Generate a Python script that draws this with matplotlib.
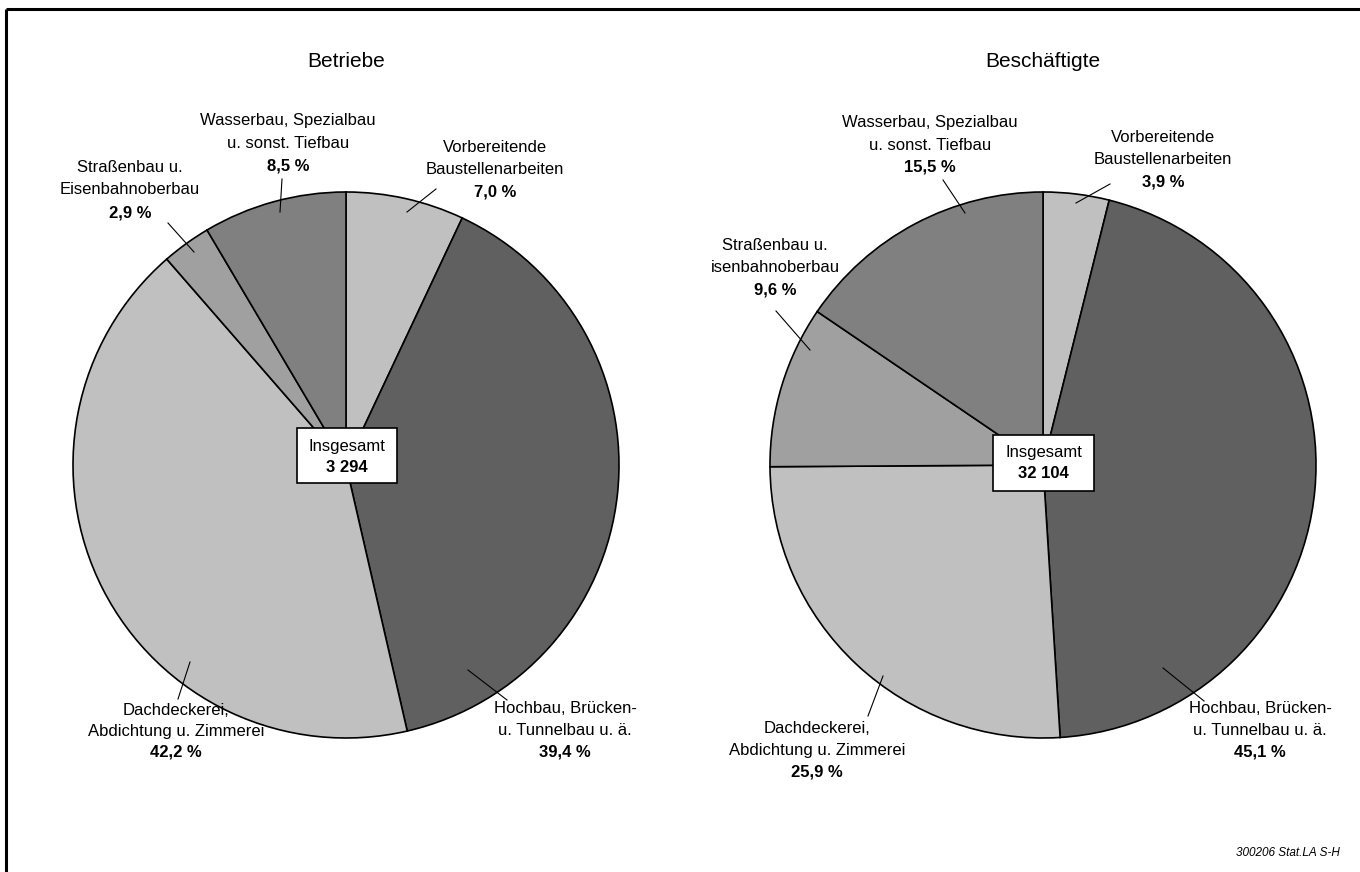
import matplotlib
matplotlib.use("Agg")
import matplotlib.pyplot as plt
from matplotlib.patches import Rectangle

plt.rcParams['font.family'] = ['Liberation Sans', 'DejaVu Sans']

# ---- data ----
categories = [
    ["Vorbereitende", "Baustellenarbeiten"],
    ["Hochbau, Brücken-", "u. Tunnelbau u. ä."],
    ["Dachdeckerei,", "Abdichtung u. Zimmerei"],
    ["Straßenbau u.", "Eisenbahnoberbau"],
    ["Wasserbau, Spezialbau", "u. sonst. Tiefbau"],
]
categories_right = [
    ["Vorbereitende", "Baustellenarbeiten"],
    ["Hochbau, Brücken-", "u. Tunnelbau u. ä."],
    ["Dachdeckerei,", "Abdichtung u. Zimmerei"],
    ["Straßenbau u.", "isenbahnoberbau"],
    ["Wasserbau, Spezialbau", "u. sonst. Tiefbau"],
]
betriebe = [7.0, 39.4, 42.2, 2.9, 8.5]
beschaeftigte = [3.9, 45.1, 25.9, 9.6, 15.5]
total_betriebe = "3 294"
total_beschaeftigte = "32 104"
titles = ["Betriebe", "Beschäftigte"]
source = "300206 Stat.LA S-H"

colors = ["#c0c0c0", "#606060", "#c0c0c0", "#a0a0a0", "#808080"]

W, H = 1360, 872
fig = plt.figure(figsize=(W / 100, H / 100), dpi=100)
ax = fig.add_axes([0, 0, 1, 1])
ax.set_xlim(0, W)
ax.set_ylim(0, H)
ax.set_aspect('equal')
ax.axis('off')

FS = 12

def Y(y):
    return H - y

# frame (left and top visible)
ax.plot([6, 6], [Y(9), Y(880)], color='black', lw=2.2, solid_capstyle='butt')
ax.plot([6, W + 5], [Y(9), Y(9)], color='black', lw=2.2, solid_capstyle='butt')

radius = 273
layouts = [
    dict(center=(346, 465), title_y=62,
         labels=[(495, [148, 170, 192]), (565, [708, 730, 752]), (176, [710, 731, 752]),
                 (130, [168, 190, 213]), (288, [120, 143, 166])],
         leaders=[((436, 189), (407, 212)), ((468, 670), (507, 700)), ((190, 662), (178, 699)),
                  ((168, 223), (194, 252)), ((282, 179), (280, 212))],
         box=(297, 428, 100, 55), box_text_y=(446, 467)),
    dict(center=(1043, 465), title_y=62,
         labels=[(1163, [138, 160, 182]), (1260, [708, 730, 752]), (817, [728, 750, 772]),
                 (775, [246, 268, 290]), (930, [123, 145, 167])],
         leaders=[((1110, 184), (1076, 203)), ((1163, 668), (1204, 701)), ((883, 676), (868, 716)),
                  ((776, 311), (810, 350)), ((943, 180), (965, 213))],
         box=(993, 435, 101, 56), box_text_y=(453, 474)),
]
datasets = [betriebe, beschaeftigte]
cats = [categories, categories_right]
totals = [total_betriebe, total_beschaeftigte]

for lay, vals, cat, tot, title in zip(layouts, datasets, cats, totals, titles):
    cx, cy = lay['center']
    ax.pie(vals, colors=colors, startangle=90, counterclock=False,
           center=(cx, Y(cy)), radius=radius,
           wedgeprops=dict(edgecolor='black', linewidth=1.2))
    ax.text(cx, Y(lay['title_y']), title, ha='center', va='center', fontsize=15)
    for (lx, lys), names, v, (p0, p1) in zip(lay['labels'], cat, vals, lay['leaders']):
        ax.text(lx, Y(lys[0]), names[0], ha='center', va='center', fontsize=FS)
        ax.text(lx, Y(lys[1]), names[1], ha='center', va='center', fontsize=FS)
        ax.text(lx, Y(lys[2]), f"{v:.1f} %".replace('.', ','), ha='center', va='center',
                fontsize=FS, fontweight='bold')
        ax.plot([p0[0], p1[0]], [Y(p0[1]), Y(p1[1])], color='black', lw=0.8)
    bx, by, bw, bh = lay['box']
    ax.add_patch(Rectangle((bx, Y(by + bh)), bw, bh, facecolor='white',
                           edgecolor='black', lw=1.2, zorder=5))
    ax.text(bx + bw / 2, Y(lay['box_text_y'][0]), "Insgesamt", ha='center', va='center',
            fontsize=FS, zorder=6)
    ax.text(bx + bw / 2, Y(lay['box_text_y'][1]), tot, ha='center', va='center',
            fontsize=FS, fontweight='bold', zorder=6)

ax.set_xlim(0, W)
ax.set_ylim(0, H)

ax.text(1340, Y(853), source, ha='right', va='center', fontsize=8.5, style='italic')

fig.savefig("out.png", dpi=100)
